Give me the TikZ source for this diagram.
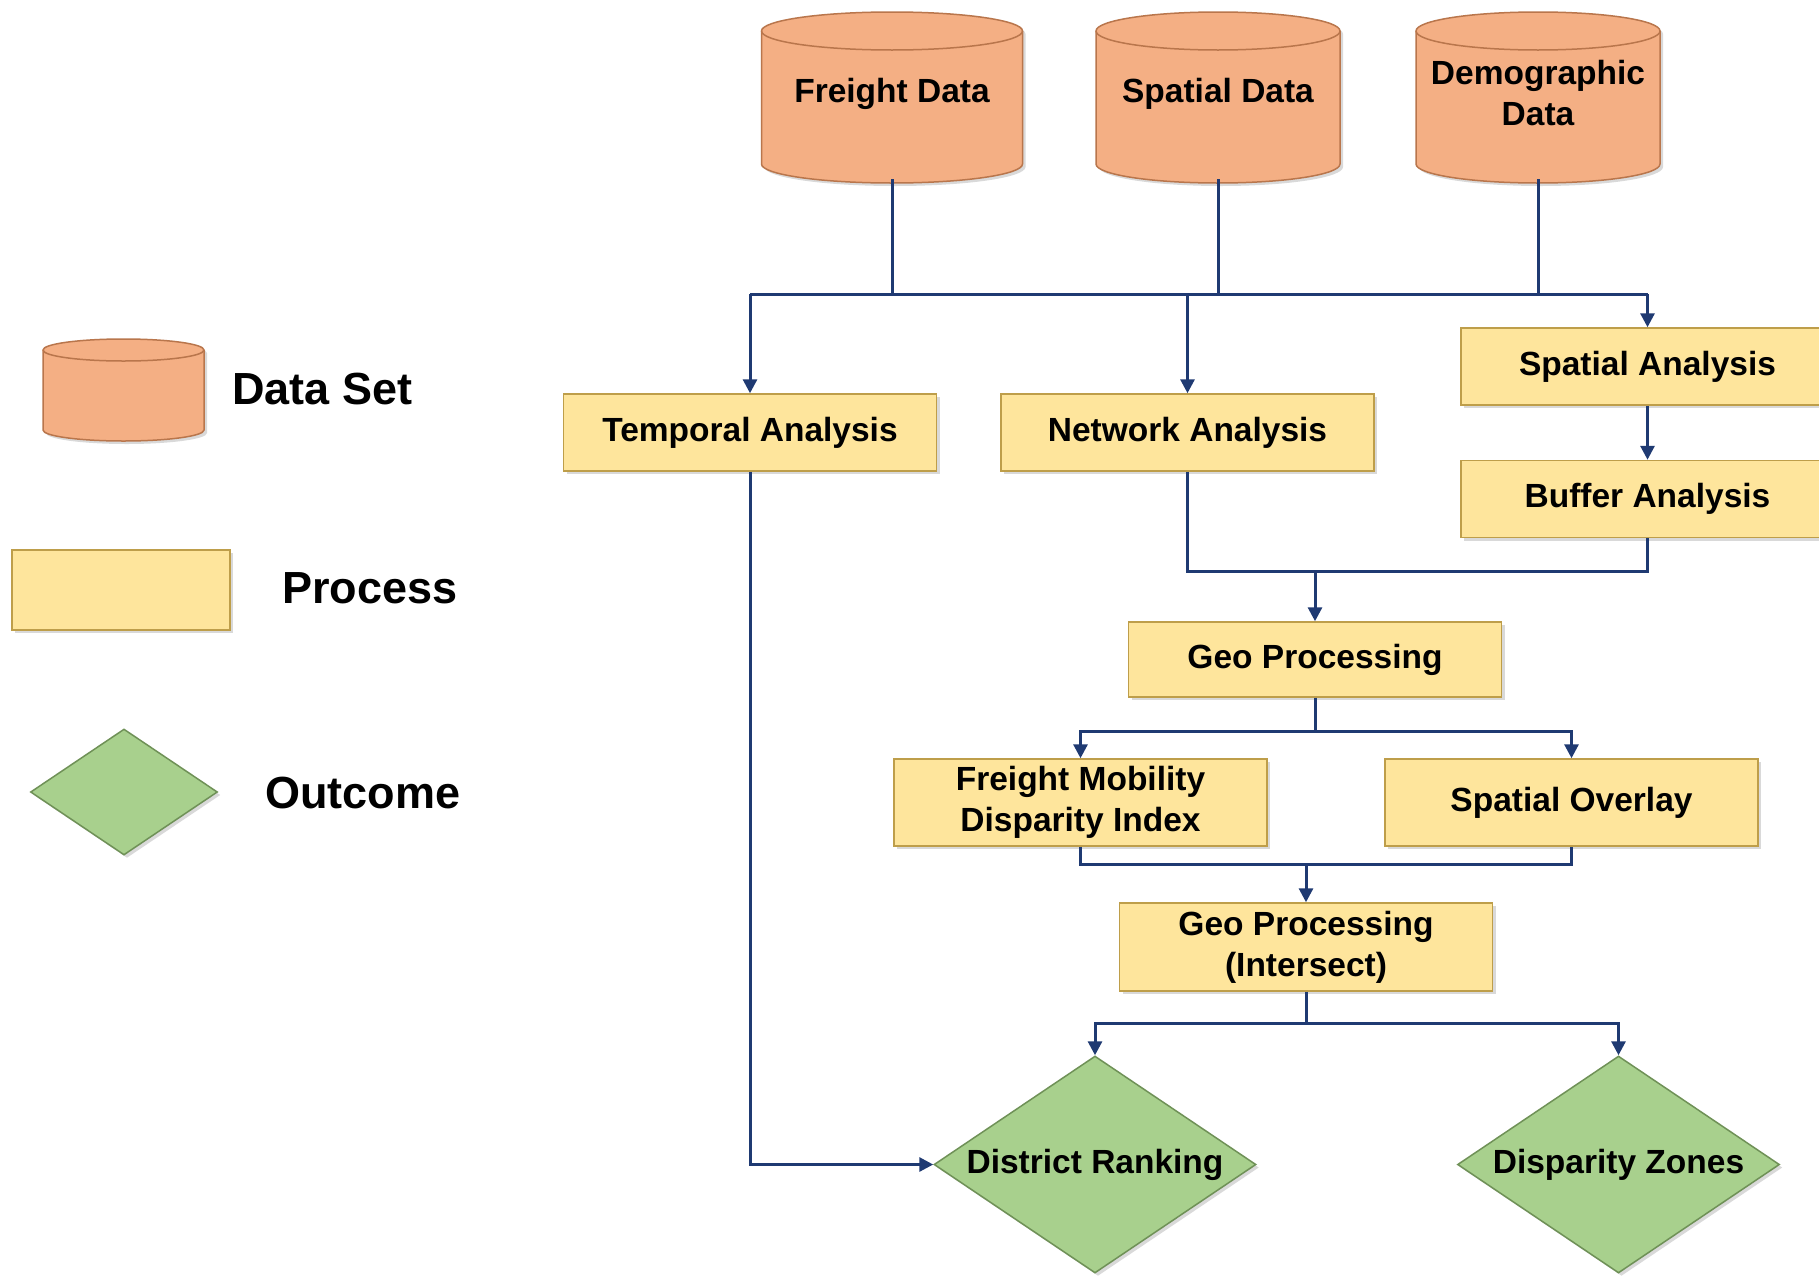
\documentclass[tikz,border=0pt]{standalone}
\usepackage{fontspec}
\setmainfont{Liberation Sans}
\usetikzlibrary{shapes.geometric,arrows.meta,shadows}
\definecolor{cylfill}{HTML}{F4AF84}
\definecolor{cylborder}{HTML}{B9764C}
\definecolor{procfill}{HTML}{FEE59C}
\definecolor{procborder}{HTML}{BE9E4A}
\definecolor{outfill}{HTML}{A8D08D}
\definecolor{outborder}{HTML}{6F9157}
\definecolor{linecol}{HTML}{1F3A72}
\newcommand{\mainfnt}{\fontsize{33.5}{41}\selectfont\bfseries}
\newcommand{\legfnt}{\fontsize{45}{52}\selectfont\bfseries}
% name, cx, cy, w, h, ry, text
\newcommand{\dbcyl}[7]{%
  \filldraw[cylbody] (#2-#4/2,#3+#5/2-#6) -- (#2-#4/2,#3-#5/2+#6)
    arc[start angle=180,end angle=360,x radius=#4/2,y radius=#6]
    -- (#2+#4/2,#3+#5/2-#6)
    arc[start angle=0,end angle=180,x radius=#4/2,y radius=#6] -- cycle;
  \draw[draw=cylborder, line width=1.5pt] (#2-#4/2,#3+#5/2-#6)
    arc[start angle=180,end angle=360,x radius=#4/2,y radius=#6];
  \node[cyltext, minimum width=#4pt, minimum height=#5pt] (#1) at (#2,#3) {#7};
}
\tikzset{
  shad/.style={drop shadow={shadow xshift=3pt, shadow yshift=-3pt, opacity=0.15, fill=black}},
  cylbody/.style={draw=cylborder, fill=cylfill, line width=1.5pt, shad},
  cyltext/.style={inner sep=0pt, align=center, font=\mainfnt, yshift=4pt},
  proc/.style={draw=procborder, fill=procfill, line width=1.5pt, minimum width=373pt,
    minimum height=77pt, inner sep=0pt, align=center, font=\mainfnt, shad},
  outc/.style={diamond, draw=outborder, fill=outfill, line width=1.5pt, aspect=1.48,
    minimum width=322pt, minimum height=217pt, inner sep=0pt, align=center, font=\mainfnt, shad},
  legtext/.style={anchor=west, inner sep=0pt, font=\legfnt},
  conn/.style={draw=linecol, line width=3pt},
  arr/.style={conn, -{Triangle[length=14pt,width=14pt]}}
}
\begin{document}
\begin{tikzpicture}[x=1pt,y=1pt]
\useasboundingbox (0,0) rectangle (1819,-1277);
\fill[white] (0,0) rectangle (1819,-1277);
\clip (0,0) rectangle (1819,-1277);

% legend
\dbcyl{lgc}{123.5}{-390}{161}{102}{11}{}
\node[proc, minimum width=218pt, minimum height=80pt] (lgp) at (121,-590) {};
\node[outc, aspect=1.48, minimum width=187pt, minimum height=126pt] (lgo) at (124,-792) {};
\node[legtext] (lt1) at (232,-389) {Data Set};
\node[legtext] (lt2) at (282,-588) {Process};
\node[legtext] (lt3) at (265,-793) {Outcome};

% data sets
\dbcyl{fd}{892}{-97.5}{261}{171}{19}{Freight Data}
\dbcyl{sd}{1218}{-97.5}{244}{171}{19}{Spatial Data}
\dbcyl{dd}{1538}{-97.5}{244}{171}{19}{Demographic\\Data}

% processes
\node[proc] (ta) at (750,-432.5) {Temporal Analysis};
\node[proc] (na) at (1187.5,-432.5) {Network Analysis};
\node[proc] (sa) at (1647.5,-366.5) {Spatial Analysis};
\node[proc] (ba) at (1647.5,-499) {Buffer Analysis};
\node[proc, minimum height=75pt] (gp) at (1315,-659.5) {Geo Processing};
\node[proc, minimum height=87pt] (fm) at (1080.5,-802.5) {Freight Mobility\\Disparity Index};
\node[proc, minimum height=87pt] (so) at (1571.5,-802.5) {Spatial Overlay};
\node[proc, minimum height=88pt] (gi) at (1306,-947) {Geo Processing\\(Intersect)};

% outcomes
\node[outc] (dr) at (1095,-1164.5) {District Ranking};
\node[outc] (dz) at (1618.5,-1164.5) {Disparity Zones};

% connectors
\coordinate (busL) at (750,-294);
\coordinate (busR) at (1647.5,-294);
\draw[conn] (fd.south) -- (fd.south |- busL);
\draw[conn] (sd.south) -- (sd.south |- busL);
\draw[conn] (dd.south) -- (dd.south |- busL);
\draw[conn] (busL) -- (busR);
\draw[arr] (busL) -- (ta.north);
\draw[arr] (na.north |- busL) -- (na.north);
\draw[arr] (busR) -- (sa.north);
\draw[arr] (sa.south) -- (ba.north);

\coordinate (j2) at (1315,-571);
\draw[conn] (na.south) |- (j2) -| (ba.south);
\draw[arr] (j2) -- (gp.north);

\coordinate (j3) at (1315,-731);
\draw[conn] (gp.south) -- (j3);
\draw[arr] (j3) -| (fm.north);
\draw[arr] (j3) -| (so.north);

\coordinate (j4) at (1306,-864);
\draw[conn] (fm.south) |- (j4) -| (so.south);
\draw[arr] (j4) -- (gi.north);

\coordinate (j5) at (1306,-1023);
\draw[conn] (gi.south) -- (j5);
\draw[arr] (j5) -| (dr.north);
\draw[arr] (j5) -| (dz.north);

\draw[arr] (ta.south) |- (dr.west);
\end{tikzpicture}
\end{document}
